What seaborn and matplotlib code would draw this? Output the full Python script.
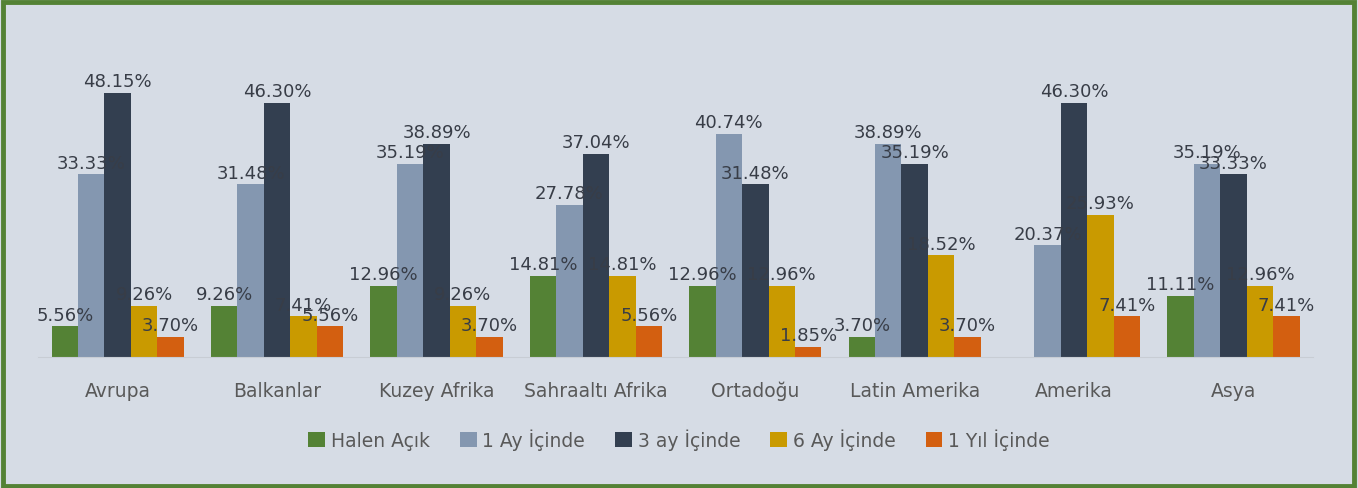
import pandas as pd
import matplotlib.pyplot as plt
import seaborn as sns
from matplotlib.patches import Rectangle

regions = ["Avrupa", "Balkanlar", "Kuzey Afrika", "Sahraaltı Afrika",
           "Ortadoğu", "Latin Amerika", "Amerika", "Asya"]
series = ["Halen Açık", "1 Ay İçinde", "3 ay İçinde", "6 Ay İçinde", "1 Yıl İçinde"]

halen_acik = [5.56, 9.26, 12.96, 14.81, 12.96, 3.70, 0.0, 11.11]
bir_ay = [33.33, 31.48, 35.19, 27.78, 40.74, 38.89, 20.37, 35.19]
uc_ay = [48.15, 46.30, 38.89, 37.04, 31.48, 35.19, 46.30, 33.33]
alti_ay = [9.26, 7.41, 9.26, 14.81, 12.96, 18.52, 25.93, 12.96]
bir_yil = [3.70, 5.56, 3.70, 5.56, 1.85, 3.70, 7.41, 7.41]

colors = ["#548235", "#8497B0", "#333F50", "#C99A00", "#D35F10"]

rows = []
for name, vals in zip(series, [halen_acik, bir_ay, uc_ay, alti_ay, bir_yil]):
    for reg, v in zip(regions, vals):
        rows.append({"bolge": reg, "seri": name, "deger": v})
df = pd.DataFrame(rows)

bg = "#D6DCE5"
fig = plt.figure(figsize=(13.58, 4.89), dpi=100, facecolor=bg)
ax = fig.add_axes([0.028, 0.268, 0.939, 0.650])
ax.set_facecolor(bg)

sns.barplot(data=df, x="bolge", y="deger", hue="seri", order=regions,
            hue_order=series, palette=colors, width=0.83, saturation=1,
            linewidth=0, ax=ax, legend=True)

for cont in ax.containers:
    labels = [f"{b.get_height():.2f}%" if b.get_height() > 0 else "" for b in cont]
    ax.bar_label(cont, labels=labels, padding=2, fontsize=13, color="#383D47")

ax.set_xlim(-0.5, 7.5)
ax.set_ylim(0, 58)
ax.set_xlabel("")
ax.set_ylabel("")
ax.set_yticks([])
for s in ["top", "right", "left"]:
    ax.spines[s].set_visible(False)
ax.spines["bottom"].set_color("#C8CDD4")
ax.tick_params(axis="x", length=0, pad=17, labelsize=13.5, labelcolor="#595959")

handles, labs = ax.get_legend_handles_labels()
ax.legend(handles, labs, loc="center", bbox_to_anchor=(0.5, 0.10),
          bbox_transform=fig.transFigure, ncol=5, frameon=False,
          fontsize=13.5, labelcolor="#595959", handlelength=0.9,
          handleheight=0.9, handletextpad=0.3, columnspacing=1.6)

fig.patches.append(Rectangle((0.002, 0.004), 0.995, 0.99, transform=fig.transFigure,
                             fill=False, edgecolor="#548235", linewidth=3.5))

fig.savefig("out.png", dpi=100, facecolor=bg)
